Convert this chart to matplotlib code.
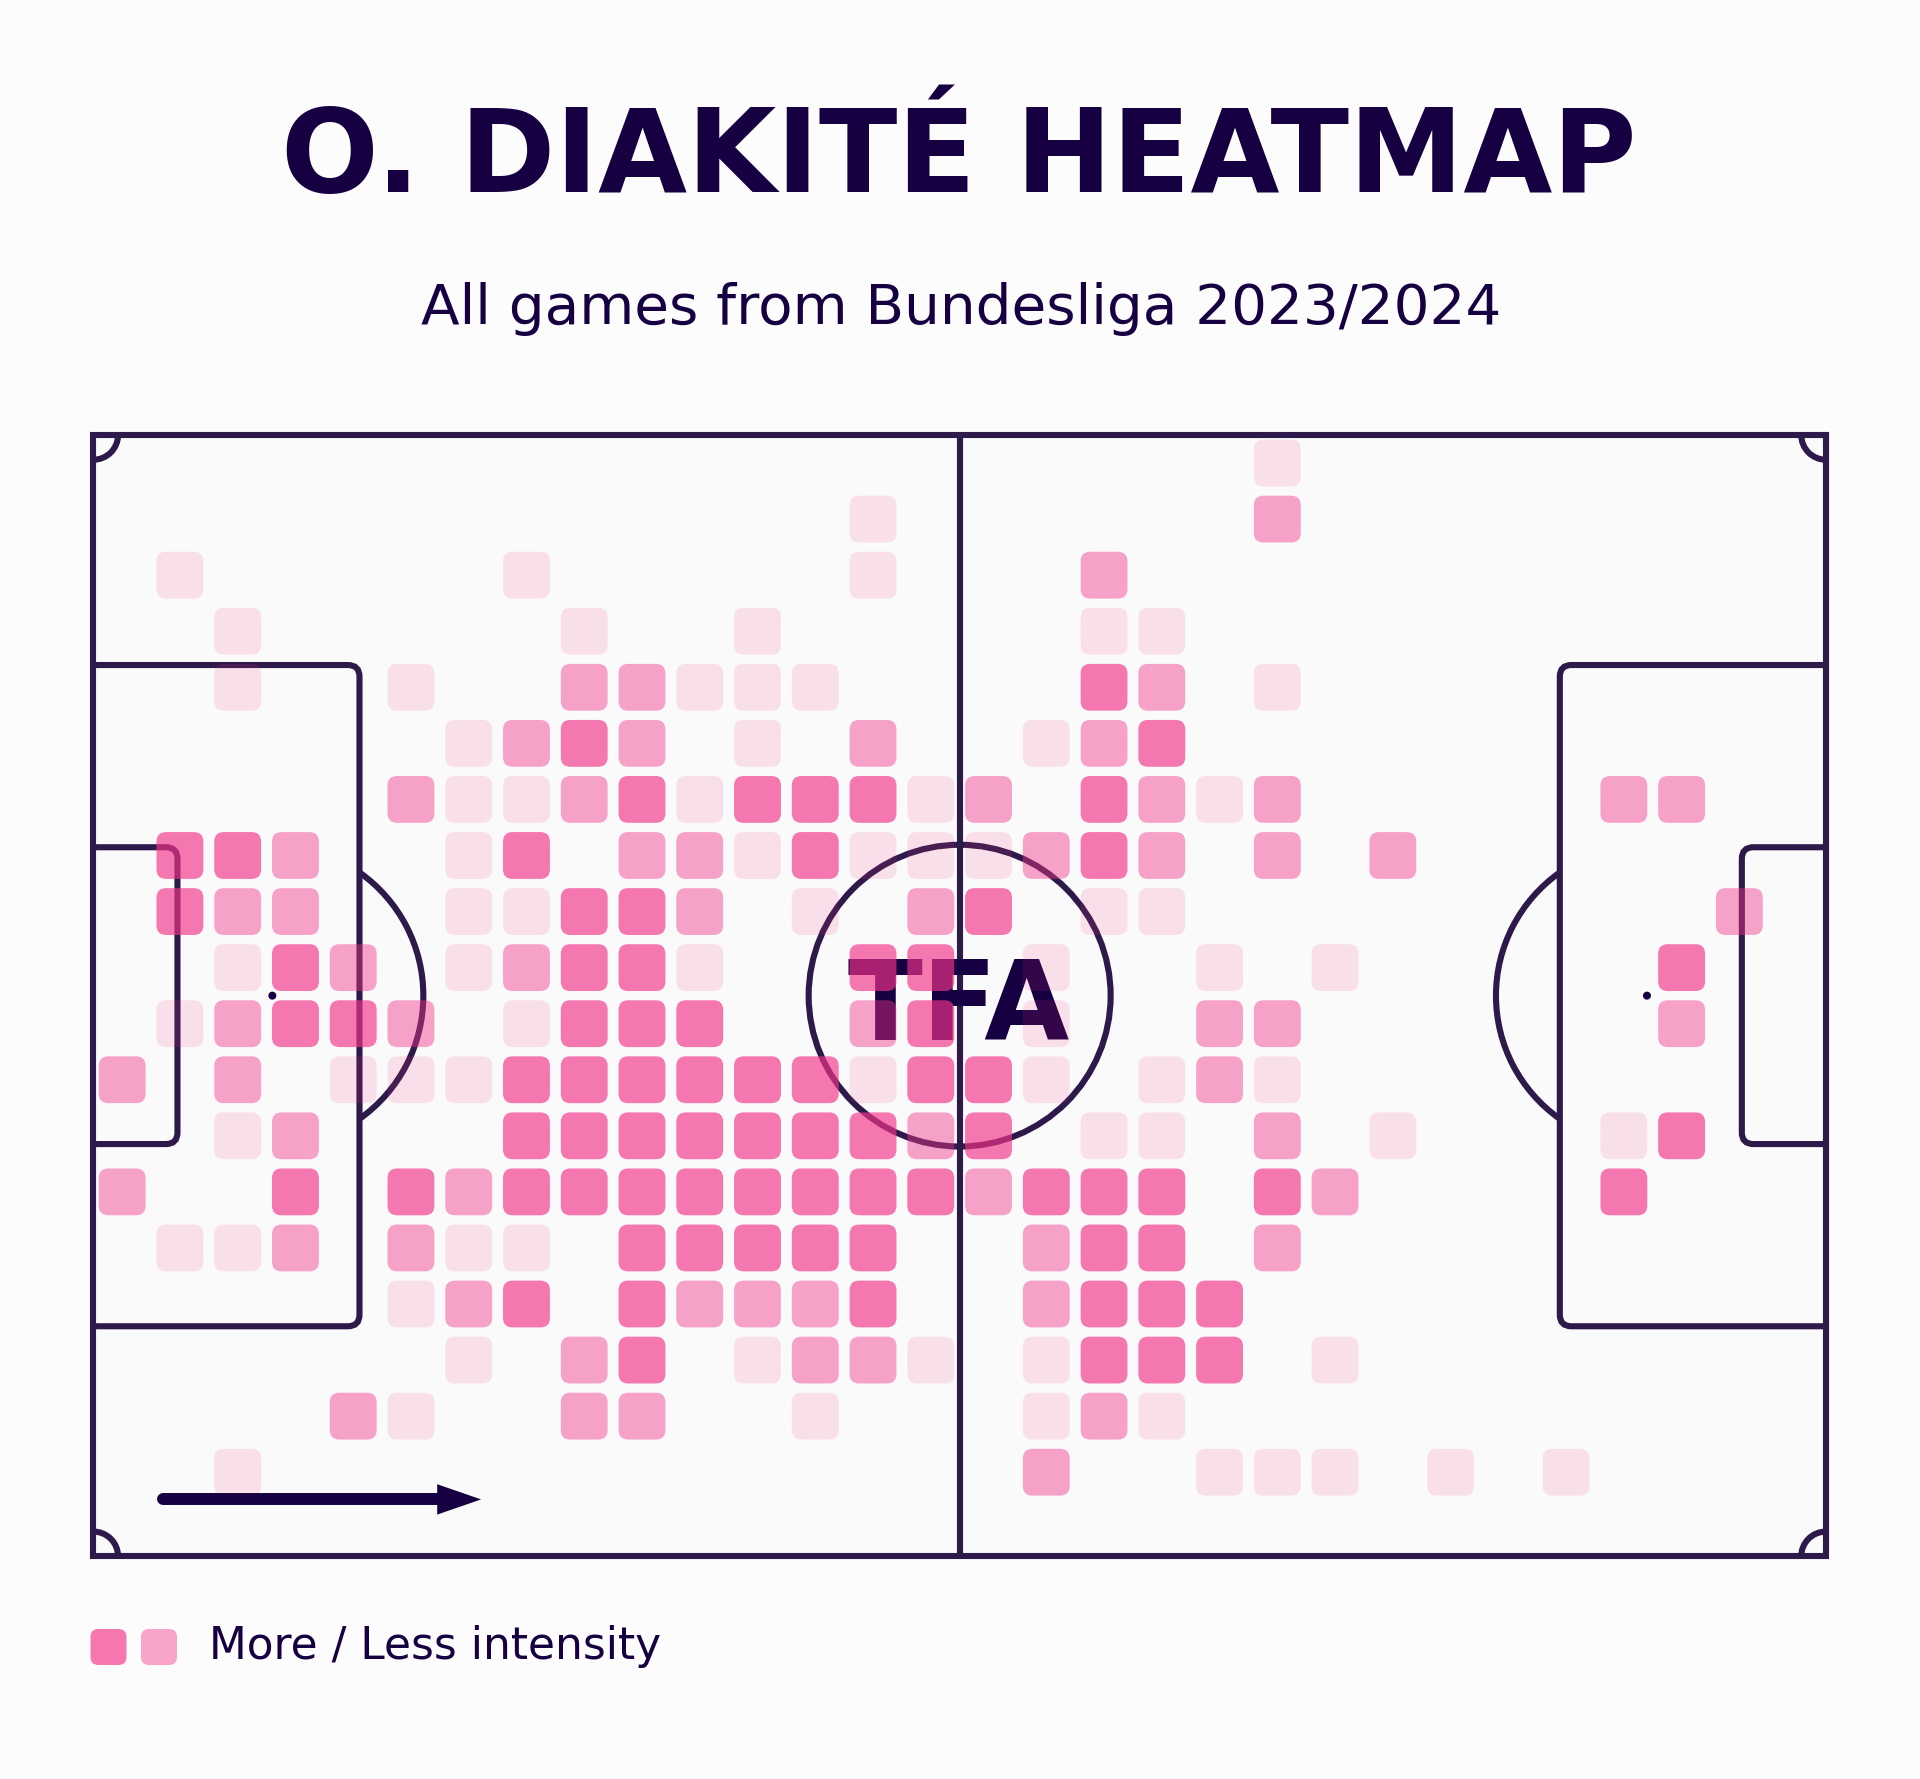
import matplotlib
matplotlib.use("Agg")
import numpy as np
import matplotlib.pyplot as plt
from matplotlib.patches import FancyBboxPatch, Arc, Circle, Polygon, Rectangle, PathPatch
from matplotlib.path import Path

# ---------------- text ----------------
TITLE = "O. DIAKITÉ HEATMAP"
SUBTITLE = "All games from Bundesliga 2023/2024"
LEGEND_LABEL = "More / Less intensity"
LOGO = "TFA"

# ---------------- grid ----------------
PITCH_LENGTH = 105.0
PITCH_WIDTH = 68.0
N_COLS = 30   # along the length (left goal -> right goal)
N_ROWS = 20   # across the width (top touchline -> bottom touchline)

# (row, col) cells by intensity level
high_cells = [
    (4, 17),
    (5, 8), (5, 18),
    (6, 9), (6, 11), (6, 12), (6, 13), (6, 17),
    (7, 1), (7, 2), (7, 7), (7, 12), (7, 17),
    (8, 1), (8, 8), (8, 9), (8, 15),
    (9, 3), (9, 8), (9, 9), (9, 13), (9, 14), (9, 27),
    (10, 3), (10, 4), (10, 8), (10, 9), (10, 10), (10, 14),
    (11, 7), (11, 8), (11, 9), (11, 10), (11, 11), (11, 12), (11, 14), (11, 15),
    (12, 7), (12, 8), (12, 9), (12, 10), (12, 11), (12, 12), (12, 13), (12, 15), (12, 27),
    (13, 3), (13, 5), (13, 7), (13, 8), (13, 9), (13, 10), (13, 11), (13, 12), (13, 13),
    (13, 14), (13, 16), (13, 17), (13, 18), (13, 20), (13, 26),
    (14, 9), (14, 10), (14, 11), (14, 12), (14, 13), (14, 17), (14, 18),
    (15, 7), (15, 9), (15, 13), (15, 17), (15, 18), (15, 19),
    (16, 9), (16, 17), (16, 18), (16, 19),
]
medium_cells = [
    (1, 20),
    (2, 17),
    (4, 8), (4, 9), (4, 18),
    (5, 7), (5, 9), (5, 13), (5, 17),
    (6, 5), (6, 8), (6, 15), (6, 18), (6, 20), (6, 26), (6, 27),
    (7, 3), (7, 9), (7, 10), (7, 16), (7, 18), (7, 20), (7, 22),
    (8, 2), (8, 3), (8, 10), (8, 14), (8, 28),
    (9, 4), (9, 7),
    (10, 2), (10, 5), (10, 13), (10, 19), (10, 20), (10, 27),
    (11, 0), (11, 2), (11, 19),
    (12, 3), (12, 14), (12, 20),
    (13, 0), (13, 6), (13, 15), (13, 21),
    (14, 3), (14, 5), (14, 16), (14, 20),
    (15, 6), (15, 10), (15, 11), (15, 12), (15, 16),
    (16, 8), (16, 12), (16, 13),
    (17, 4), (17, 8), (17, 9), (17, 17),
    (18, 16),
]
low_cells = [
    (0, 20),
    (1, 13),
    (2, 1), (2, 7), (2, 13),
    (3, 2), (3, 8), (3, 11), (3, 17), (3, 18),
    (4, 2), (4, 5), (4, 10), (4, 11), (4, 12), (4, 20),
    (5, 6), (5, 11), (5, 16),
    (6, 6), (6, 7), (6, 10), (6, 14), (6, 19),
    (7, 6), (7, 11), (7, 13), (7, 14), (7, 15),
    (8, 6), (8, 7), (8, 12), (8, 17), (8, 18),
    (9, 2), (9, 6), (9, 10), (9, 16), (9, 19), (9, 21),
    (10, 1), (10, 7), (10, 16),
    (11, 4), (11, 5), (11, 6), (11, 13), (11, 16), (11, 18), (11, 20),
    (12, 2), (12, 17), (12, 18), (12, 22), (12, 26),
    (14, 1), (14, 2), (14, 6), (14, 7),
    (15, 5),
    (16, 6), (16, 11), (16, 14), (16, 16), (16, 21),
    (17, 5), (17, 12), (17, 16), (17, 18),
    (18, 2), (18, 19), (18, 20), (18, 21), (18, 23), (18, 25),
]

# ---------------- style ----------------
BG = "#FCFCFC"
PITCH_BG = "#FAFAFA"
LINE = "#2D1A4A"
DARK = "#160041"
CELL_BASE = "#F33389"
LEVEL_ALPHA = {3: 0.66, 2: 0.44, 1: 0.135}

W, H = 1920, 1779
fig = plt.figure(figsize=(W / 100, H / 100), dpi=100, facecolor=BG)

# pitch axes placed in pixel terms
x0_px, x1_px = 93.3, 1826.0
y0_px, y1_px = 435.0, 1556.3
ax = fig.add_axes([x0_px / W, 1 - y1_px / H, (x1_px - x0_px) / W, (y1_px - y0_px) / H])
ax.set_xlim(0, PITCH_LENGTH)
ax.set_ylim(PITCH_WIDTH, 0)
ax.axis("off")

LW = 4.4
ax.add_patch(Rectangle((0, 0), PITCH_LENGTH, PITCH_WIDTH, facecolor=PITCH_BG, edgecolor="none", zorder=0))
ax.add_patch(Rectangle((0, 0), PITCH_LENGTH, PITCH_WIDTH, fill=False, edgecolor=LINE, lw=LW,
                       joinstyle="miter", zorder=2, clip_on=False))
ax.plot([PITCH_LENGTH / 2] * 2, [0, PITCH_WIDTH], color=LINE, lw=LW, zorder=2, solid_capstyle="butt")
ax.add_patch(Circle((PITCH_LENGTH / 2, PITCH_WIDTH / 2), 9.15, fill=False, edgecolor=LINE, lw=LW, zorder=2))

BOX_DEPTH, BOX_HALF = 16.13, 20.05
SIX_DEPTH, SIX_HALF = 5.1, 9.0
SPOT = 10.85
R_CORNER = 0.7
cy = PITCH_WIDTH / 2


def box_path(depth, half, right=False):
    pts = [(0, cy - half), (depth - R_CORNER, cy - half), (depth, cy - half),
           (depth, cy - half + R_CORNER), (depth, cy + half - R_CORNER), (depth, cy + half),
           (depth - R_CORNER, cy + half), (0, cy + half)]
    codes = [Path.MOVETO, Path.LINETO, Path.CURVE3, Path.CURVE3, Path.LINETO,
             Path.CURVE3, Path.CURVE3, Path.LINETO]
    if right:
        pts = [(PITCH_LENGTH - x, y) for x, y in pts]
    return Path(pts, codes)


for right in (False, True):
    for d, hw in ((BOX_DEPTH, BOX_HALF), (SIX_DEPTH, SIX_HALF)):
        ax.add_patch(PathPatch(box_path(d, hw, right), fill=False, edgecolor=LINE, lw=LW,
                               zorder=2, clip_on=False))

theta = np.degrees(np.arccos((BOX_DEPTH - SPOT) / 9.15))
ax.add_patch(Arc((SPOT, cy), 18.3, 18.3, theta1=-theta, theta2=theta, color=LINE, lw=LW, zorder=2))
ax.add_patch(Arc((PITCH_LENGTH - SPOT, cy), 18.3, 18.3, theta1=180 - theta, theta2=180 + theta,
                 color=LINE, lw=LW, zorder=2))
for sx in (SPOT, PITCH_LENGTH - SPOT):
    ax.add_patch(Circle((sx, cy), 0.2, color=DARK, zorder=2))

RC = 1.5
for (cx_, cy_), (t1, t2) in (((0, 0), (0, 90)), ((0, PITCH_WIDTH), (270, 360)),
                             ((PITCH_LENGTH, 0), (90, 180)), ((PITCH_LENGTH, PITCH_WIDTH), (180, 270))):
    ax.add_patch(Arc((cx_, cy_), 2 * RC, 2 * RC, theta1=t1, theta2=t2, color=LINE, lw=LW,
                     zorder=2, clip_on=False))

# logo (single text, sits under the translucent cells)
ax.text(52.43, 36.69, LOGO, ha="center", va="baseline", fontsize=79, fontweight="bold",
        color=DARK, family="DejaVu Sans", zorder=3)

# heat cells
col_w = PITCH_LENGTH / N_COLS
row_h = PITCH_WIDTH / N_ROWS
CELL = 2.84
for level, cells in ((1, low_cells), (2, medium_cells), (3, high_cells)):
    for r, c in cells:
        x = (c + 0.5) * col_w
        y = (r + 0.5) * row_h
        ax.add_patch(FancyBboxPatch((x - CELL / 2, y - CELL / 2), CELL, CELL,
                                    boxstyle="round,pad=0,rounding_size=0.58",
                                    facecolor=CELL_BASE, alpha=LEVEL_ALPHA[level],
                                    edgecolor="none", zorder=4))

# direction arrow
ay = 64.55
ax.plot([4.2, 21.0], [ay, ay], color=DARK, lw=8.6, solid_capstyle="round", zorder=5)
ax.add_patch(Polygon([(20.84, ay - 0.92), (23.5, ay), (20.84, ay + 0.92)], closed=True,
                     facecolor=DARK, edgecolor="none", zorder=5))

# overlay axes in pixel coordinates for titles and legend
fax = fig.add_axes([0, 0, 1, 1], facecolor="none")
fax.set_xlim(0, W)
fax.set_ylim(H, 0)
fax.axis("off")

fax.text(959.3, 192.5, TITLE, ha="center", va="baseline", fontsize=82.8, fontweight="bold",
         color=DARK, family="DejaVu Sans")
fax.text(961, 323.5, SUBTITLE, ha="center", va="baseline", fontsize=40.6,
         color=DARK, family="DejaVu Sans")

for lx, level in ((90.5, 3), (141.0, 2)):
    fax.add_patch(FancyBboxPatch((lx, 1629), 36, 36, boxstyle="round,pad=0,rounding_size=8",
                                 facecolor=CELL_BASE, alpha=LEVEL_ALPHA[level], edgecolor="none"))
fax.text(208.7, 1659.3, LEGEND_LABEL, ha="left", va="baseline", fontsize=31.6,
         color=DARK, family="DejaVu Sans")

fig.savefig("out.png", dpi=100, facecolor=BG)
